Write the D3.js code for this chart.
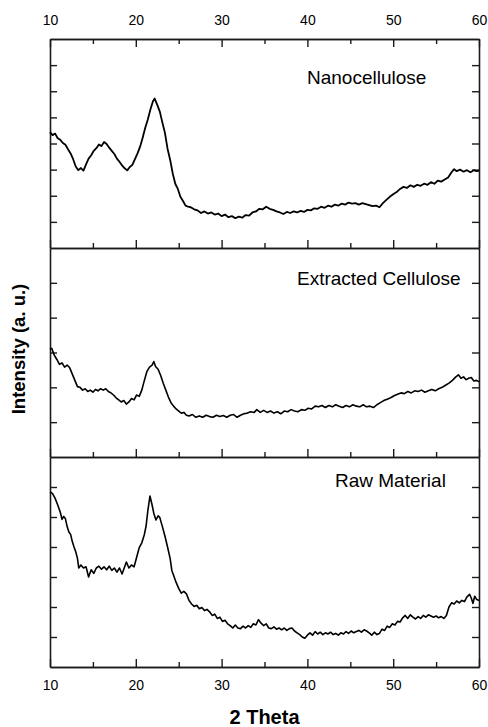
<!DOCTYPE html>
<html><head><meta charset="utf-8">
<script src="https://cdn.jsdelivr.net/npm/d3@7"></script>
<style>
html,body{margin:0;padding:0;background:#fff;}
svg{display:block;font-family:"Liberation Sans",Arial,sans-serif;}
</style></head>
<body><svg id="c" width="488" height="727"></svg>
<script>
// ---- data ----
const xTicks = [10, 20, 30, 40, 50, 60];
const xMinorTicks = [15, 25, 35, 45, 55];
const panelNames = ["Nanocellulose", "Extracted Cellulose", "Raw Material"];
const panelYMax = [8, 6, 7];

const nanoTheta = [10.0,10.3,10.6,10.9,11.2,11.5,11.8,12.1,12.4,12.7,13.0,13.3,13.6,13.9,14.2,14.5,14.8,15.1,15.4,15.7,16.0,16.3,16.6,16.9,17.2,17.5,17.8,18.1,18.4,18.7,19.0,19.3,19.6,19.9,20.2,20.5,20.8,21.1,21.4,21.7,22.0,22.2,22.5,22.8,23.1,23.4,23.7,24.0,24.3,24.6,24.9,25.2,25.5,25.8,26.1,26.4,26.8,27.2,27.6,28.0,28.4,28.8,29.2,29.6,30.0,30.4,30.8,31.2,31.6,32.0,32.4,32.8,33.2,33.6,34.0,34.4,34.8,35.2,35.6,36.0,36.4,36.8,37.2,37.6,38.0,38.4,38.8,39.2,39.6,40.0,40.4,40.8,41.2,41.6,42.0,42.4,42.8,43.2,43.6,44.0,44.4,44.8,45.2,45.6,46.0,46.4,46.8,47.2,47.6,48.0,48.4,48.8,49.2,49.6,50.0,50.4,50.8,51.2,51.6,52.0,52.4,52.8,53.2,53.6,54.0,54.4,54.8,55.2,55.6,56.0,56.4,56.8,57.1,57.4,57.8,58.2,58.6,59.0,59.4,59.7,60.0];
const nanoInt   = [4.44,4.32,4.38,4.20,4.14,4.02,3.95,3.78,3.62,3.40,3.12,2.98,3.06,2.96,3.20,3.42,3.55,3.72,3.82,3.96,3.90,4.06,3.98,3.84,3.72,3.60,3.42,3.30,3.16,3.05,2.97,3.10,3.18,3.40,3.62,3.88,4.22,4.60,4.92,5.30,5.62,5.72,5.48,5.22,4.80,4.40,3.80,3.38,2.86,2.46,2.26,1.96,1.80,1.62,1.58,1.56,1.48,1.44,1.34,1.40,1.32,1.36,1.28,1.32,1.22,1.28,1.18,1.22,1.14,1.20,1.16,1.26,1.24,1.36,1.40,1.50,1.48,1.58,1.50,1.46,1.40,1.36,1.30,1.38,1.34,1.40,1.36,1.42,1.38,1.46,1.44,1.52,1.50,1.58,1.54,1.62,1.58,1.66,1.62,1.70,1.66,1.74,1.70,1.72,1.66,1.72,1.68,1.64,1.60,1.62,1.56,1.72,1.84,1.96,2.06,2.14,2.26,2.34,2.30,2.40,2.34,2.42,2.38,2.46,2.42,2.52,2.46,2.58,2.54,2.62,2.70,2.90,3.02,2.94,3.00,2.92,2.98,2.90,2.98,2.94,2.96];

const extTheta = [10.0,10.2,10.5,10.8,11.1,11.4,11.7,12.0,12.3,12.6,12.9,13.2,13.5,13.8,14.1,14.4,14.7,15.0,15.3,15.6,15.9,16.2,16.5,16.8,17.1,17.4,17.7,18.0,18.3,18.6,18.9,19.2,19.5,19.8,20.1,20.4,20.7,21.0,21.3,21.6,21.9,22.1,22.3,22.6,22.9,23.2,23.5,23.8,24.1,24.4,24.7,25.0,25.3,25.6,25.9,26.2,26.6,27.0,27.4,27.8,28.2,28.6,29.0,29.4,29.8,30.2,30.6,31.0,31.4,31.8,32.2,32.6,33.0,33.4,33.8,34.1,34.5,34.9,35.3,35.7,36.1,36.5,36.9,37.3,37.7,38.1,38.5,38.9,39.3,39.7,40.1,40.5,40.9,41.3,41.7,42.1,42.5,42.9,43.3,43.7,44.1,44.5,44.9,45.3,45.7,46.1,46.5,46.9,47.3,47.7,48.1,48.5,48.9,49.3,49.7,50.1,50.5,50.9,51.3,51.7,52.1,52.5,52.9,53.3,53.7,54.1,54.5,54.9,55.3,55.7,56.1,56.5,56.9,57.3,57.6,57.9,58.2,58.5,58.8,59.1,59.4,59.7,60.0];
const extInt   = [3.09,3.12,2.92,2.80,2.66,2.70,2.58,2.64,2.56,2.38,2.20,2.02,2.00,1.92,1.96,1.88,1.92,1.86,1.94,1.90,1.96,1.92,1.96,1.88,1.84,1.78,1.70,1.64,1.58,1.62,1.52,1.58,1.68,1.64,1.78,1.74,1.92,2.20,2.46,2.58,2.64,2.74,2.60,2.52,2.34,2.12,1.92,1.72,1.56,1.46,1.38,1.32,1.26,1.28,1.20,1.18,1.22,1.14,1.18,1.14,1.20,1.16,1.14,1.20,1.16,1.19,1.14,1.20,1.22,1.14,1.20,1.24,1.26,1.30,1.28,1.36,1.28,1.34,1.28,1.32,1.26,1.30,1.24,1.32,1.30,1.36,1.32,1.30,1.36,1.34,1.40,1.38,1.46,1.44,1.48,1.42,1.48,1.44,1.50,1.46,1.42,1.48,1.44,1.50,1.46,1.44,1.50,1.44,1.46,1.42,1.50,1.56,1.62,1.66,1.70,1.76,1.80,1.84,1.82,1.88,1.84,1.90,1.88,1.92,1.86,1.90,1.94,1.90,1.96,2.00,2.06,2.12,2.20,2.30,2.36,2.26,2.30,2.22,2.26,2.28,2.18,2.20,2.16];

const rawTheta = [10.0,10.3,10.6,10.9,11.2,11.4,11.6,11.8,12.0,12.2,12.4,12.6,12.8,13.0,13.2,13.35,13.6,13.9,14.2,14.5,14.8,15.1,15.4,15.7,16.0,16.3,16.6,16.9,17.2,17.5,17.8,18.1,18.4,18.7,18.9,19.2,19.5,19.8,20.1,20.4,20.7,21.0,21.2,21.4,21.65,21.9,22.1,22.35,22.6,22.8,23.1,23.4,23.7,24.0,24.2,24.4,24.7,25.0,25.3,25.6,25.9,26.2,26.5,26.8,27.1,27.4,27.7,28.0,28.3,28.6,28.9,29.2,29.5,29.8,30.1,30.4,30.7,31.0,31.3,31.6,31.9,32.2,32.5,32.8,33.1,33.4,33.7,34.0,34.3,34.6,34.9,35.2,35.5,35.8,36.1,36.4,36.7,37.0,37.3,37.6,37.9,38.2,38.5,38.8,39.1,39.4,39.7,40.0,40.3,40.6,40.9,41.2,41.5,41.8,42.1,42.4,42.7,43.0,43.3,43.6,43.9,44.2,44.5,44.8,45.1,45.4,45.7,46.0,46.3,46.6,46.9,47.2,47.5,47.8,48.1,48.4,48.7,49.0,49.3,49.6,49.9,50.2,50.5,50.8,51.1,51.4,51.7,52.0,52.3,52.6,52.9,53.2,53.5,53.8,54.1,54.4,54.7,55.0,55.3,55.6,55.9,56.2,56.5,56.8,57.1,57.4,57.7,58.0,58.3,58.6,58.9,59.1,59.3,59.5,59.7,60.0];
const rawInt   = [5.84,5.78,5.62,5.40,5.16,4.92,5.02,4.94,4.68,4.50,4.42,4.18,4.00,3.84,3.62,3.30,3.40,3.30,3.34,3.00,3.24,3.12,3.30,3.36,3.26,3.34,3.24,3.36,3.22,3.30,3.16,3.30,3.10,3.34,3.50,3.30,3.40,3.34,3.66,3.98,4.14,4.42,4.70,5.20,5.70,5.40,5.12,4.90,5.04,4.98,4.68,4.36,4.00,3.62,3.22,3.06,2.82,2.62,2.46,2.52,2.44,2.22,2.10,2.02,2.06,1.94,1.98,1.88,1.92,1.84,1.72,1.76,1.62,1.66,1.52,1.56,1.44,1.38,1.30,1.40,1.30,1.28,1.36,1.30,1.38,1.32,1.44,1.40,1.58,1.46,1.38,1.44,1.30,1.28,1.34,1.26,1.30,1.24,1.30,1.22,1.28,1.30,1.20,1.14,1.08,1.00,0.96,1.06,1.14,1.06,1.18,1.10,1.16,1.08,1.14,1.10,1.16,1.08,1.12,1.06,1.14,1.10,1.18,1.12,1.20,1.14,1.18,1.22,1.16,1.24,1.20,1.14,1.06,1.16,1.08,1.12,1.26,1.22,1.36,1.32,1.44,1.40,1.52,1.50,1.64,1.72,1.62,1.74,1.66,1.60,1.68,1.62,1.72,1.66,1.74,1.70,1.66,1.70,1.64,1.68,1.62,1.72,2.00,2.14,2.10,2.20,2.14,2.22,2.18,2.34,2.42,2.30,2.12,2.36,2.26,2.22];

const panelTheta = [nanoTheta, extTheta, rawTheta];
const panelInt = [nanoInt, extInt, rawInt];

// ---- layout ----
const left = 50, right = 479;
const panelTops = [39, 248, 457];
const panelBottoms = [248, 457, 667];
const svg = d3.select("#c");
const ink = "#1a1a1a";

const x = d3.scaleLinear().domain([10, 60]).range([left, right]);

panelNames.forEach((name, i) => {
  const y = d3.scaleLinear().domain([0, panelYMax[i]]).range([panelBottoms[i], panelTops[i]]);
  const g = svg.append("g");
  const yt = d3.range(1, panelYMax[i]);

  g.append("g").attr("transform", `translate(${left},0)`)
    .call(d3.axisLeft(y).tickValues(yt).tickSize(-7).tickSizeOuter(0).tickFormat(""));
  g.append("g").attr("transform", `translate(${right},0)`)
    .call(d3.axisRight(y).tickValues(yt).tickSize(-7).tickSizeOuter(0).tickFormat(""));

  const isLast = i === panelNames.length - 1;
  g.append("g").attr("transform", `translate(0,${panelBottoms[i]})`)
    .call(d3.axisBottom(x).tickValues(xTicks).tickSize(-8).tickSizeOuter(0).tickPadding(13)
      .tickFormat(isLast ? d3.format("d") : ""));
  g.append("g").attr("transform", `translate(0,${panelBottoms[i]})`)
    .call(d3.axisBottom(x).tickValues(xMinorTicks).tickSize(-5).tickSizeOuter(0).tickFormat(""));

  if (i === 0) {
    g.append("g").attr("transform", `translate(0,${panelTops[i]})`)
      .call(d3.axisTop(x).tickValues(xTicks).tickSize(-8).tickSizeOuter(0).tickPadding(14).tickFormat(d3.format("d")));
    g.append("g").attr("transform", `translate(0,${panelTops[i]})`)
      .call(d3.axisTop(x).tickValues(xMinorTicks).tickSize(-5).tickSizeOuter(0).tickFormat(""));
  }

  const data = panelTheta[i].map((t, k) => [t, panelInt[i][k]]);
  g.append("path").datum(data)
    .attr("fill", "none").attr("stroke", "#000")
    .attr("stroke-width", i === 0 ? 1.8 : 1.6)
    .attr("stroke-linejoin", "round")
    .attr("d", d3.line().x(d => x(d[0])).y(d => y(d[1])).curve(d3.curveLinear));
});

svg.selectAll(".domain").attr("stroke", ink).attr("stroke-width", 1.6);
svg.selectAll(".tick line").attr("stroke", ink).attr("stroke-width", 1.4);
svg.selectAll(".tick text").attr("fill", "#000").attr("font-size", 14)
  .attr("font-family", "'Liberation Sans', Arial, sans-serif");

const labelPos = [[307, 84], [297, 285], [335, 487]];
panelNames.forEach((name, i) => {
  svg.append("text").attr("x", labelPos[i][0]).attr("y", labelPos[i][1])
    .attr("font-size", 19).attr("fill", "#000").text(name);
});

svg.append("text").attr("x", (left + right) / 2).attr("y", 724)
  .attr("text-anchor", "middle").attr("font-size", 20).attr("font-weight", "bold").text("2 Theta");
svg.append("text").attr("transform", "translate(25,349) rotate(-90)")
  .attr("text-anchor", "middle").attr("font-size", 18.5).attr("font-weight", "bold").text("Intensity (a. u.)");
</script></body></html>
